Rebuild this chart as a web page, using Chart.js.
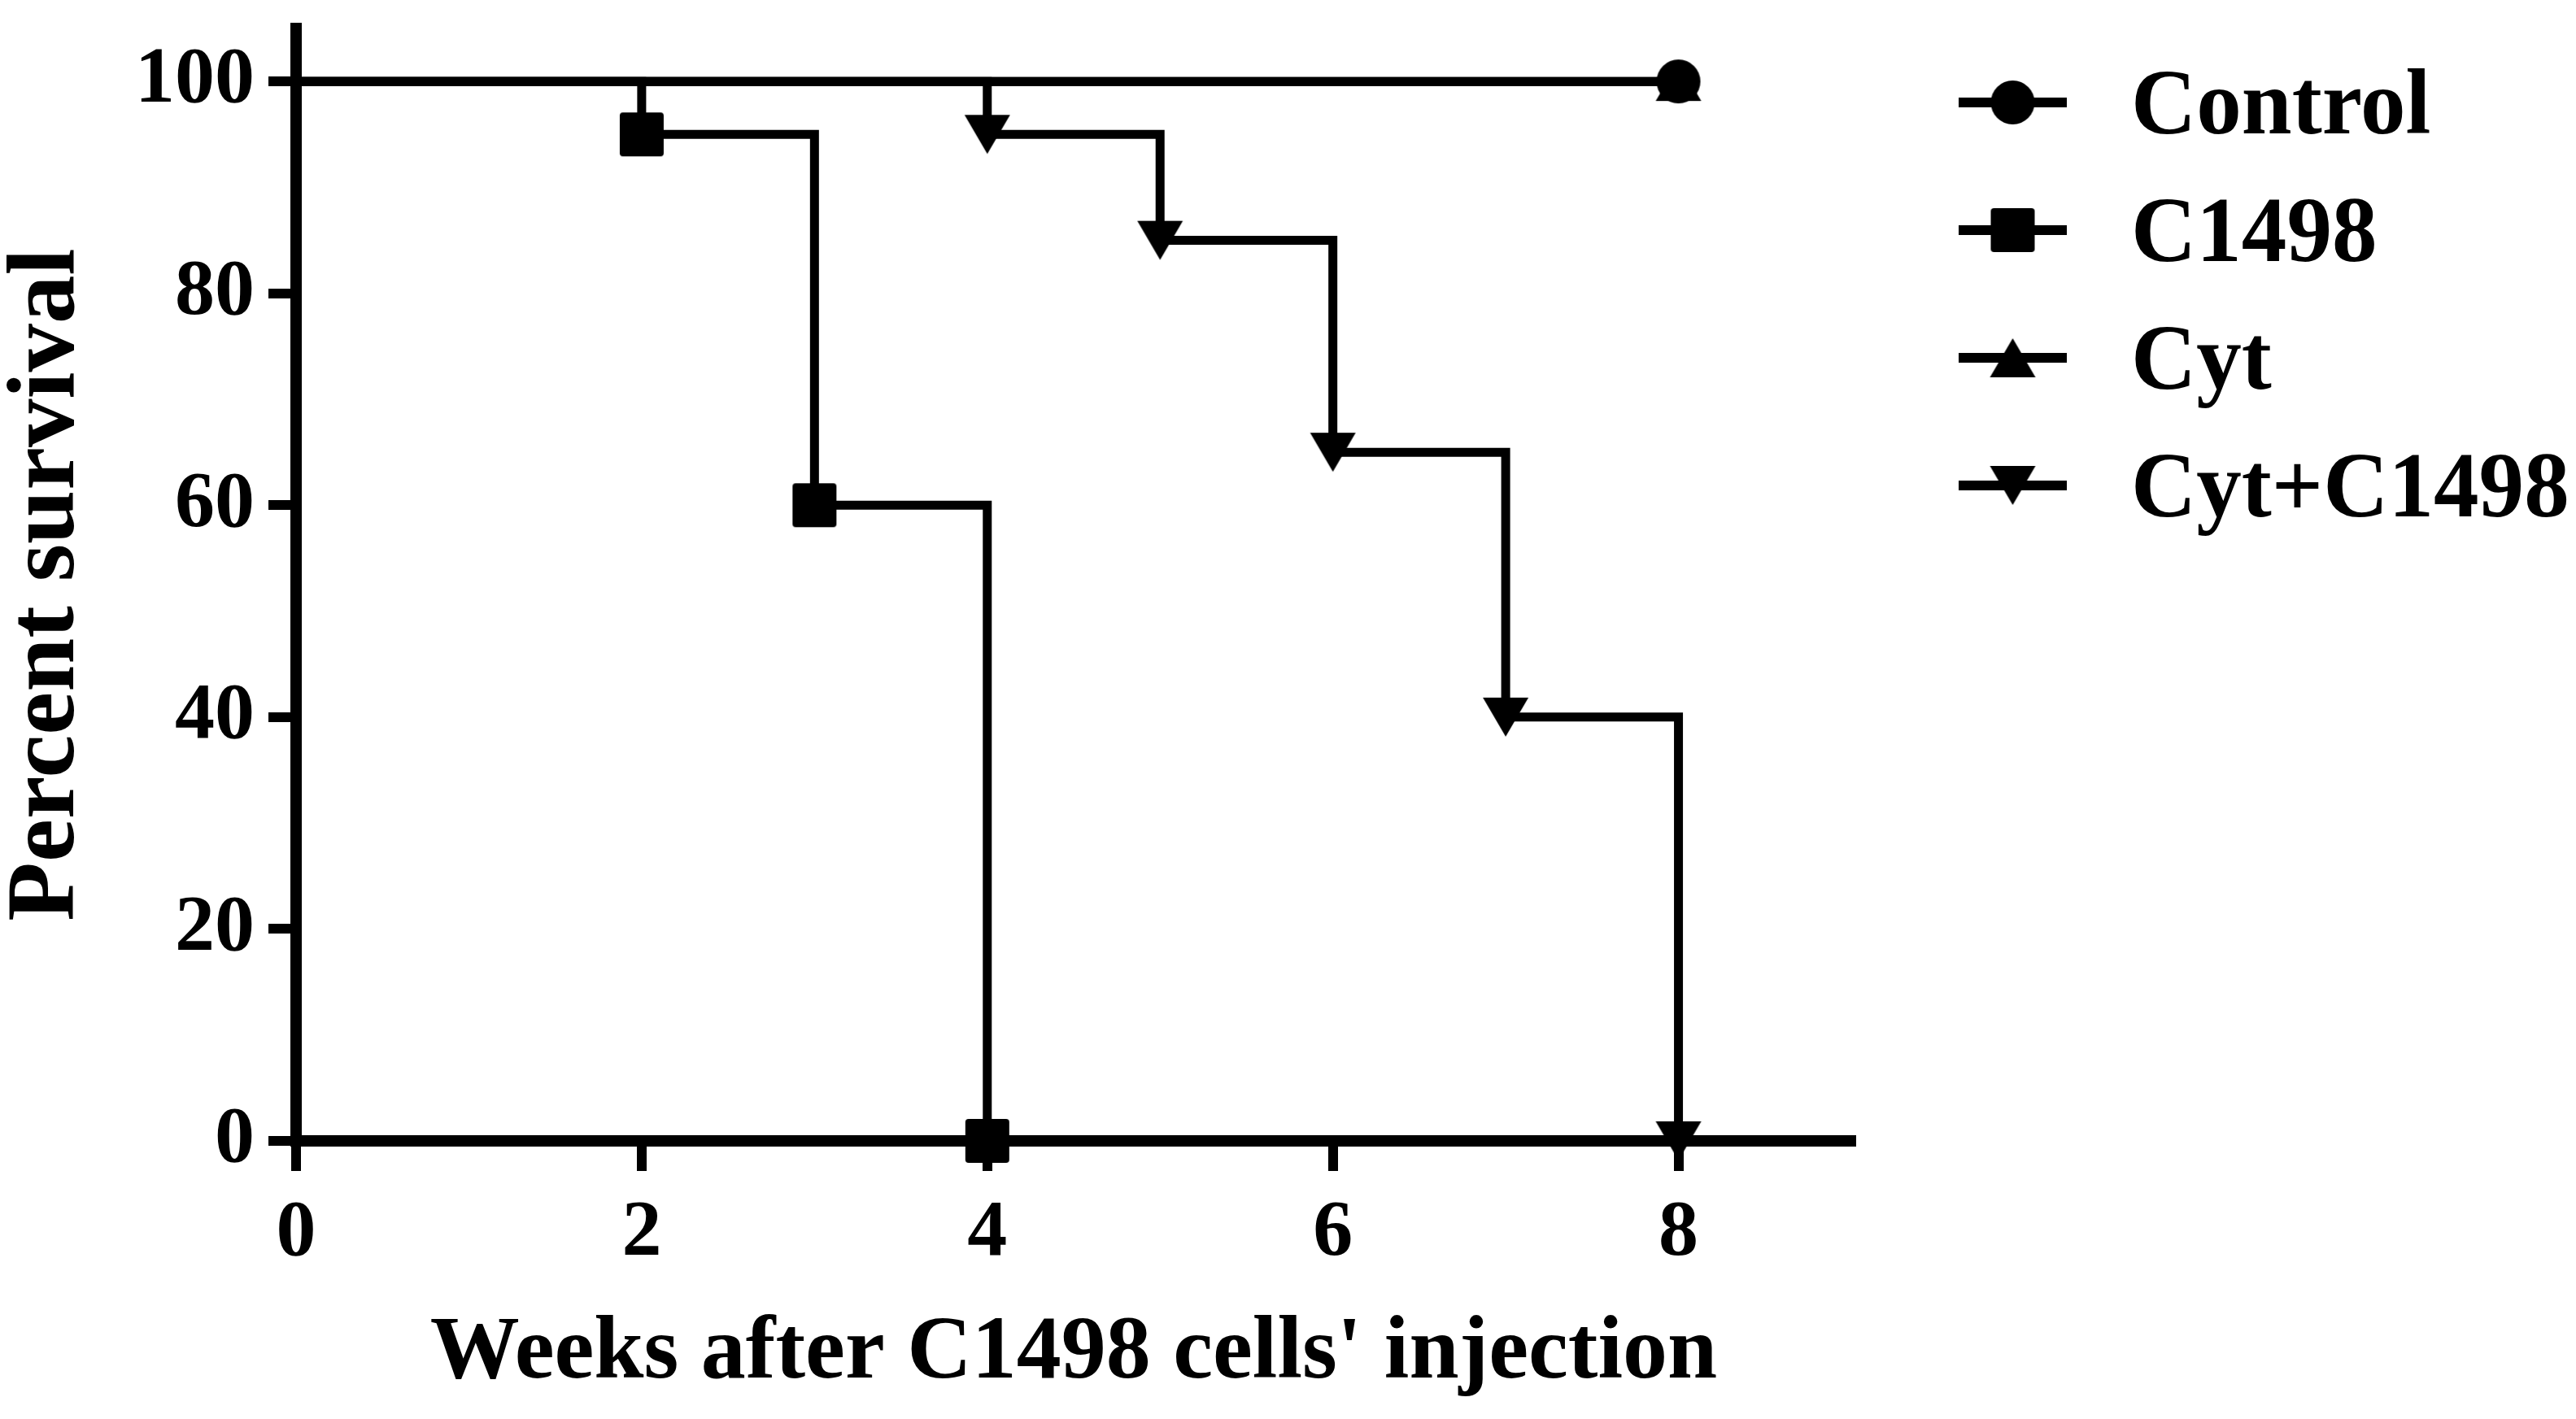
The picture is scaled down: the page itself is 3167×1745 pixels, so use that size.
<!DOCTYPE html>
<html>
<head>
<meta charset="utf-8">
<script src="https://cdn.jsdelivr.net/npm/chart.js@4.4.1/dist/chart.umd.min.js"></script>
<style>
html,body{margin:0;padding:0;background:#fff;}
canvas{display:block;}
</style>
</head>
<body>
<canvas id="c" width="3167" height="1745"></canvas>
<script>
// ---- data ----
const seriesNames = ['Control', 'C1498', 'Cyt', 'Cyt+C1498'];
const controlWeeks = [0, 8];
const controlSurvival = [100, 100];
const c1498Weeks = [0, 2, 3, 4];
const c1498Survival = [100, 95, 60, 0];
const cytWeeks = [0, 8];
const cytSurvival = [100, 100];
const cytC1498Weeks = [0, 4, 5, 6, 7, 8];
const cytC1498Survival = [100, 95, 85, 65, 40, 0];
const xTickValues = [0, 2, 4, 6, 8];
const yTickValues = [0, 20, 40, 60, 80, 100];
const xTitle = "Weeks after C1498 cells' injection";
const yTitle = 'Percent survival';

// ---- marker images ----
function makeMarker(kind) {
  const c = document.createElement('canvas');
  let g;
  if (kind === 'circle') {
    c.width = 56; c.height = 56;
    g = c.getContext('2d'); g.fillStyle = '#000'; g.beginPath();
    g.arc(28, 28, 27, 0, Math.PI * 2);
  } else if (kind === 'square') {
    c.width = 56; c.height = 56;
    g = c.getContext('2d'); g.fillStyle = '#000'; g.beginPath();
    g.roundRect(1, 1, 54, 54, 4);
  } else if (kind === 'up') {
    c.width = 58; c.height = 50;
    g = c.getContext('2d'); g.fillStyle = '#000'; g.beginPath();
    g.moveTo(29, 1); g.lineTo(57, 49); g.lineTo(1, 49); g.closePath();
  } else {
    c.width = 58; c.height = 50;
    g = c.getContext('2d'); g.fillStyle = '#000'; g.beginPath();
    g.moveTo(1, 1); g.lineTo(57, 1); g.lineTo(29, 49); g.closePath();
  }
  g.fill();
  return c;
}
const markerImages = [makeMarker('circle'), makeMarker('square'), makeMarker('up'), makeMarker('down')];

function makeDataset(idx, xs, ys) {
  return {
    label: seriesNames[idx],
    data: xs.map((x, i) => ({ x: x, y: ys[i] })),
    stepped: 'before',
    borderColor: '#000',
    backgroundColor: '#000',
    borderWidth: 11,
    borderCapStyle: 'butt',
    borderJoinStyle: 'miter',
    fill: false,
    tension: 0,
    clip: false,
    pointStyle: markerImages[idx],
    pointRadius: (c) => (c.dataIndex === 0 ? 0 : 1),
    pointHoverRadius: (c) => (c.dataIndex === 0 ? 0 : 1),
    pointBorderWidth: 0
  };
}

const FONT = 'Liberation Serif';

const legendPlugin = {
  id: 'survivalLegend',
  afterDraw(chart, args, opts) {
    const ctx = chart.ctx;
    chart.data.datasets.forEach((d, i) => {
      const y = opts.top + i * opts.rowGap;
      ctx.save();
      ctx.strokeStyle = '#000';
      ctx.lineWidth = opts.lineWidth;
      ctx.lineCap = 'butt';
      ctx.beginPath();
      ctx.moveTo(opts.lineX0, y);
      ctx.lineTo(opts.lineX1, y);
      ctx.stroke();
      const img = markerImages[i];
      ctx.drawImage(img, (opts.lineX0 + opts.lineX1) / 2 - img.width / 2, y - img.height / 2);
      ctx.fillStyle = '#000';
      ctx.font = 'bold ' + opts.fontSize + 'px "' + FONT + '"';
      ctx.textAlign = 'left';
      ctx.textBaseline = 'alphabetic';
      ctx.translate(opts.textX, y + opts.fontSize * 0.33);
      ctx.scale(opts.textScaleX, 1);
      ctx.fillText(d.label, 0, 0);
      ctx.restore();
    });
  }
};

const chart = new Chart(document.getElementById('c').getContext('2d'), {
  type: 'line',
  data: {
    datasets: [
      makeDataset(0, controlWeeks, controlSurvival),
      makeDataset(1, c1498Weeks, c1498Survival),
      makeDataset(2, cytWeeks, cytSurvival),
      makeDataset(3, cytC1498Weeks, cytC1498Survival)
    ]
  },
  options: {
    responsive: false,
    animation: false,
    devicePixelRatio: 1,
    events: [],
    layout: { padding: { top: 35, right: 891, bottom: 0, left: 0 } },
    plugins: {
      legend: { display: false },
      tooltip: { enabled: false },
      survivalLegend: { top: 126, rowGap: 157, lineX0: 2408, lineX1: 2541, lineWidth: 12, textX: 2620, fontSize: 114, textScaleX: 0.975 }
    },
    scales: {
      x: {
        type: 'linear',
        min: 0,
        max: 9,
        afterBuildTicks: (s) => { s.ticks = xTickValues.map(v => ({ value: v })); },
        afterFit: (s) => { s.height = 342; s.paddingLeft = 0; s.paddingRight = 0; },
        border: { display: true, color: '#000', width: 14 },
        grid: { display: true, drawOnChartArea: false, drawTicks: true, tickLength: 37, tickWidth: 12, tickColor: '#000', color: '#000', lineWidth: 12 },
        ticks: { color: '#000', padding: 19, maxRotation: 0, autoSkip: false, font: { family: FONT, size: 98, weight: 'bold' } },
        title: { display: true, text: xTitle, color: '#000', font: { family: FONT, size: 110, weight: 'bold', lineHeight: 1.2 }, padding: { top: 0, bottom: 13 } }
      },
      y: {
        type: 'linear',
        min: 0,
        max: 105,
        afterBuildTicks: (s) => { s.ticks = yTickValues.map(v => ({ value: v })); },
        afterFit: (s) => { s.width = 364; s.paddingTop = 0; s.paddingBottom = 0; },
        border: { display: true, color: '#000', width: 14 },
        grid: { display: true, drawOnChartArea: false, drawTicks: true, tickLength: 34, tickWidth: 12, tickColor: '#000', color: '#000', lineWidth: 12 },
        ticks: { color: '#000', padding: 17, font: { family: FONT, size: 98, weight: 'bold' } },
        title: { display: true, text: yTitle, color: '#000', font: { family: FONT, size: 119, weight: 'bold', lineHeight: 1 }, padding: { top: 0, bottom: 0 } }
      }
    }
  },
  plugins: [legendPlugin]
});
</script>
</body>
</html>
